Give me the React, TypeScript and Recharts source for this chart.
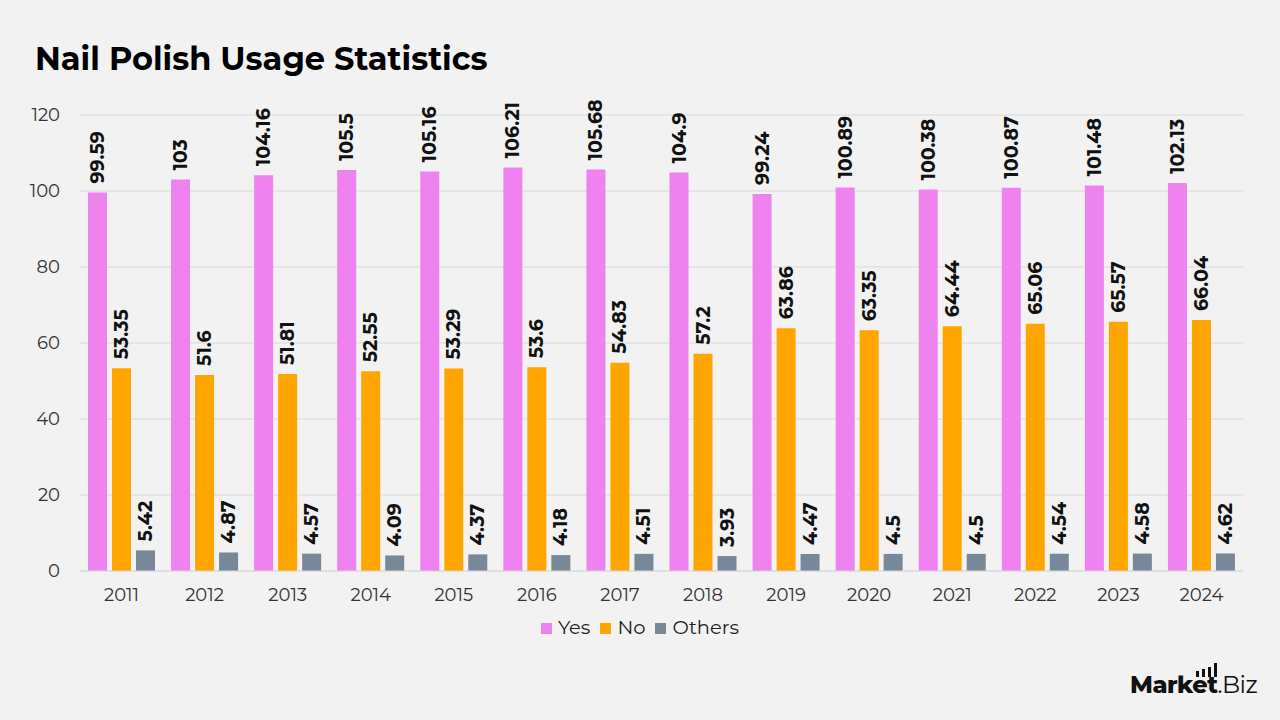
import React from 'react';
import {
  BarChart,
  Bar,
  XAxis,
  YAxis,
  CartesianGrid,
  Legend,
  LabelList,
} from 'recharts';

const years = ['2011', '2012', '2013', '2014', '2015', '2016', '2017', '2018', '2019', '2020', '2021', '2022', '2023', '2024'];
const yesValues = [99.59, 103, 104.16, 105.5, 105.16, 106.21, 105.68, 104.9, 99.24, 100.89, 100.38, 100.87, 101.48, 102.13];
const noValues = [53.35, 51.6, 51.81, 52.55, 53.29, 53.6, 54.83, 57.2, 63.86, 63.35, 64.44, 65.06, 65.57, 66.04];
const otherValues = [5.42, 4.87, 4.57, 4.09, 4.37, 4.18, 4.51, 3.93, 4.47, 4.5, 4.5, 4.54, 4.58, 4.62];
const yTicks = [0, 20, 40, 60, 80, 100, 120];
const seriesOrder = ['Yes', 'No', 'Others'];

const FONT = 'Montserrat, "Open Sans", sans-serif';

const data = years.map((year, i) => ({
  year,
  yes: yesValues[i],
  no: noValues[i],
  others: otherValues[i],
}));

const BarLabel = (props: any) => {
  const { x, y, width, value } = props;
  return (
    <text
      transform={`translate(${x + width / 2}, ${y - 9}) rotate(-90)`}
      textAnchor="start"
      dominantBaseline="central"
      fontFamily={FONT}
      fontSize={19}
      fontWeight={700}
      fill="#111"
    >
      {value}
    </text>
  );
};

export default function App() {
  return (
    <div
      style={{
        position: 'absolute',
        left: 0,
        top: 0,
        width: 1280,
        height: 720,
        background: '#f2f2f2',
        fontFamily: FONT,
      }}
    >
      <div
        style={{
          position: 'absolute',
          left: 35,
          top: 39,
          fontSize: 32,
          fontWeight: 700,
          color: '#000',
        }}
      >
        Nail Polish Usage Statistics
      </div>
      <BarChart
        width={1280}
        height={720}
        data={data}
        margin={{ top: 115, right: 37, bottom: 95, left: 0 }}
        barSize={19}
        barGap={5}
      >
        <CartesianGrid vertical={false} stroke="#d9d9d9" />
        <XAxis
          dataKey="year"
          height={30}
          axisLine={{ stroke: '#d9d9d9' }}
          tickLine={false}
          tick={{ fill: '#333', fontSize: 18, fontFamily: FONT }}
          tickMargin={11}
        />
        <YAxis
          width={80}
          domain={[0, 120]}
          ticks={yTicks}
          axisLine={false}
          tickLine={false}
          tick={{ fill: '#333', fontSize: 18, fontFamily: FONT }}
          tickMargin={14}
        />
        <Legend
          iconType="square"
          iconSize={11}
          itemSorter={(item: any) => seriesOrder.indexOf(item.value)}
          wrapperStyle={{ top: 615, left: 5, width: 1280, fontSize: 19.5, fontFamily: FONT }}
          formatter={(value: string) => <span style={{ color: '#222', marginLeft: 2 }}>{value}</span>}
        />
        <Bar dataKey="yes" name="Yes" fill="#ee82ee" isAnimationActive={false}>
          <LabelList dataKey="yes" content={BarLabel} />
        </Bar>
        <Bar dataKey="no" name="No" fill="#ffa500" isAnimationActive={false}>
          <LabelList dataKey="no" content={BarLabel} />
        </Bar>
        <Bar dataKey="others" name="Others" fill="#778899" isAnimationActive={false}>
          <LabelList dataKey="others" content={BarLabel} />
        </Bar>
      </BarChart>
      <div
        style={{
          position: 'absolute',
          left: 1130,
          top: 670,
          fontSize: 24,
          color: '#111',
          letterSpacing: -0.5,
        }}
      >
        <span style={{ fontWeight: 800 }}>Market</span>
        <span style={{ fontWeight: 400 }}>.Biz</span>
        <div style={{ position: 'absolute', left: 66, top: -7, display: 'flex', alignItems: 'flex-end', gap: 3 }}>
          <div style={{ width: 3, height: 6, background: '#111' }} />
          <div style={{ width: 3, height: 8, background: '#111' }} />
          <div style={{ width: 3, height: 10, background: '#111' }} />
          <div style={{ width: 3, height: 14, background: '#111' }} />
        </div>
      </div>
    </div>
  );
}
